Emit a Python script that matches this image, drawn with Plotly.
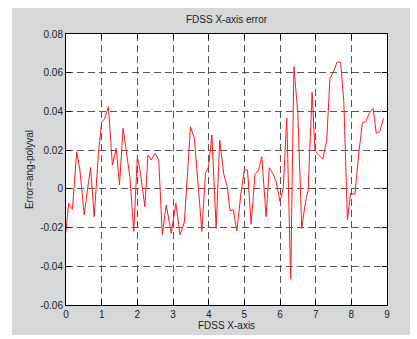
import plotly.graph_objects as go

x_vals = [0.0, 0.075, 0.18, 0.30, 0.39, 0.51, 0.60, 0.69, 0.79, 0.91,
          1.0, 1.08, 1.19, 1.30, 1.41, 1.50, 1.60, 1.79, 1.90,
          2.0, 2.09, 2.21, 2.30, 2.39, 2.50, 2.60, 2.70, 2.81, 2.95,
          3.08, 3.20, 3.32, 3.49, 3.60, 3.81, 3.91,
          4.0, 4.09, 4.21, 4.31, 4.42, 4.53, 4.60, 4.69, 4.79, 4.91,
          5.0, 5.09, 5.19, 5.30, 5.40, 5.49, 5.61, 5.70, 5.80, 5.89,
          6.0, 6.09, 6.19, 6.30, 6.39, 6.50, 6.61, 6.70, 6.79, 6.90, 6.98,
          7.07, 7.20, 7.31, 7.40, 7.49, 7.60, 7.70, 7.79, 7.89, 7.98,
          8.10, 8.21, 8.31, 8.41, 8.50, 8.61, 8.70, 8.80, 8.90]
err_vals = [-0.022, -0.0075, -0.0106, 0.0192, 0.0097, -0.0135, -0.0006, 0.011, -0.0144, 0.0184,
            0.0347, 0.036, 0.0425, 0.0123, 0.021, 0.002, 0.0313, 0.0063, -0.022,
            0.0166, 0.008, -0.0092, 0.0175, 0.0149, 0.0184, 0.0149, -0.0238, -0.0083, -0.023,
            -0.0075, -0.0238, -0.017, 0.0321, 0.0261, -0.022, 0.008,
            0.0115, 0.0278, -0.0204, 0.0252, 0.008, 0.0003, -0.0114, -0.0109, -0.0218, -0.0015,
            0.0097, 0.0097, -0.0183, 0.0075, 0.0097, 0.0166, -0.0144, 0.0109, 0.008, 0.0037,
            -0.0066, 0.0003, 0.0364, -0.0466, 0.0631, 0.039, -0.0204, -0.0083, -0.0006, 0.0499, 0.020,
            0.0178, 0.0153, 0.0252, 0.0571, 0.0600, 0.0655, 0.0654, 0.045, -0.0159, -0.0023,
            -0.0028, 0.0185, 0.0342, 0.0347, 0.039, 0.0416, 0.0287, 0.0295, 0.0364]

x_ticks = [0, 1, 2, 3, 4, 5, 6, 7, 8, 9]
y_ticks = [0.08, 0.06, 0.04, 0.02, 0, -0.02, -0.04, -0.06]
y_tick_text = ["0.08", "0.06", "0.04", "0.02", "0", "-0.02", "-0.04", "-0.06"]

fig = go.Figure()
fig.add_trace(go.Scatter(x=x_vals, y=err_vals, mode="lines",
                         line=dict(color="#ff1a1a", width=1), showlegend=False))

W, H = 417, 339
L, R, T, B = 66, 387, 34, 305
pw, ph = R - L, B - T

def px_x(p):
    return (p - L) / pw

def px_y(p):
    return (B - p) / ph

fig.add_shape(type="rect", xref="paper", yref="paper",
              x0=px_x(12), x1=px_x(410), y0=px_y(335), y1=px_y(8),
              fillcolor="#d6d7d9", line=dict(width=0), layer="below")
fig.add_shape(type="rect", xref="paper", yref="paper",
              x0=0, x1=1, y0=0, y1=1,
              fillcolor="white", line=dict(width=0), layer="below")

font_family = "Liberation Sans, Arial, Helvetica, sans-serif"
axis_common = dict(showline=True, linecolor="black", linewidth=1, mirror="ticks",
                   ticks="inside", ticklen=5, tickcolor="black",
                   showgrid=True, gridcolor="#555555", gridwidth=1, griddash="7px,4px",
                   zeroline=False, tickfont=dict(size=10, color="#222222", family=font_family))

fig.update_xaxes(range=[0, 9], tickvals=x_ticks, **axis_common,
                 title=dict(text="FDSS X-axis", font=dict(size=10, color="#222222", family=font_family),
                            standoff=2))
fig.update_yaxes(range=[-0.06, 0.08], tickvals=y_ticks, ticktext=y_tick_text, **axis_common,
                 title=dict(text="Error=ang-polyval", font=dict(size=10, color="#222222", family=font_family),
                            standoff=4))

fig.update_layout(
    width=W, height=H,
    margin=dict(l=L, r=W - R, t=T, b=H - B, autoexpand=False),
    paper_bgcolor="white", plot_bgcolor="white",
    title=dict(text="FDSS X-axis error", x=(L + R) / 2 / W, xanchor="center",
               y=1 - 19 / H, yanchor="middle",
               font=dict(size=10, color="#222222", family=font_family)),
    font=dict(family=font_family),
)

fig.write_html("out.html", config={"displayModeBar": False},
               post_script="document.body.style.margin='0';document.body.style.overflow='hidden';")
